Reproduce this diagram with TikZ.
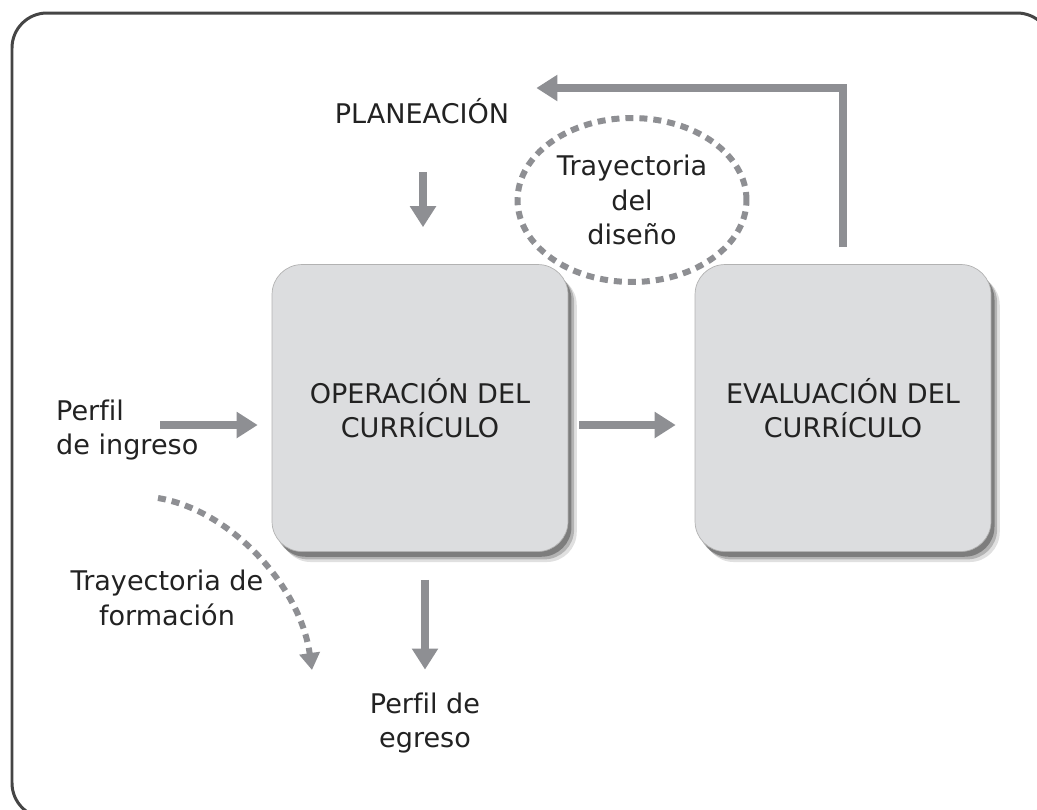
\documentclass[tikz,border=0pt]{standalone}
\usepackage{fontspec}
\setmainfont{DejaVu Sans}[Ligatures=NoCommon]
\usetikzlibrary{arrows.meta,shapes.geometric,shadows}
\definecolor{flechagris}{HTML}{8E8F93}
\definecolor{cajagris}{HTML}{DCDDDF}
\definecolor{textogris}{HTML}{222222}
\definecolor{marcogris}{HTML}{454545}

\begin{document}
\begin{tikzpicture}[x=0.02cm,y=-0.02cm,
  every node/.style={font=\fontsize{15.4}{19.5}\selectfont,text=textogris},
  caja/.style={draw=gray!60,fill=cajagris,rounded corners=0.6cm,
    minimum width=5.92cm,minimum height=5.74cm,align=center,
    drop shadow={shadow xshift=5pt,shadow yshift=-6pt,fill=black,opacity=0.12},
    drop shadow={shadow xshift=3.5pt,shadow yshift=-4.5pt,fill=black,opacity=0.2},
    drop shadow={shadow xshift=2pt,shadow yshift=-3pt,fill=black,opacity=0.3}},
  flecha/.style={draw=flechagris,line width=0.16cm,-{Triangle[width=0.5cm,length=0.42cm]}},
  punteada/.style={draw=flechagris,line width=0.12cm,dash pattern=on 0.16cm off 0.12cm}]

\useasboundingbox (0,0) rectangle (1037,809);
\clip (0,0) rectangle (1037,809);
\draw[marcogris,line width=0.06cm,rounded corners=0.7cm] (12,13) rectangle (1052,818);

\node[caja] (oper) at (420,408) {OPERACIÓN DEL\\CURRÍCULO};
\node[caja] (eval) at (843,408) {EVALUACIÓN DEL\\CURRÍCULO};

\node (plan) at (422,111) {PLANEACIÓN};
\node[ellipse,punteada,minimum width=4.12cm,minimum height=3.28cm,align=center] (diseno) at (632,200) {Trayectoria\\del\\diseño};
\node[align=left,anchor=west] (ingreso) at (50,430) {Perfil\\de ingreso};
\node[align=center] (egreso) at (425,723) {Perfil de\\egreso};
\node[align=center] (formacion) at (167,598) {Trayectoria de\\formación};

\coordinate (p0) at (423,172);
\coordinate (ent) at (160,425);
\coordinate (ret) at (843,88);
\coordinate (f0) at (158,498);
\coordinate (f1) at (312,670);

\draw[flecha,shorten >=0.74cm] (p0) -- (p0 |- oper.north);
\draw[flecha,shorten >=0.28cm] (ent) -- (ent -| oper.west);
\draw[flecha,shorten <=0.22cm,shorten >=0.38cm] (ent -| oper.east) -- (ent -| eval.west);
\draw[flecha,shorten <=0.56cm,shorten >=0.34cm] (egreso.north |- oper.south) -- (egreso.north);
\draw[flecha,shorten <=0.34cm,shorten >=0.42cm] (eval.north) -- (ret) -- (ret -| plan.east);
\draw[punteada,-{Triangle[width=0.4cm,length=0.34cm]}] (f0) .. controls (230,510) and (300,585) .. (f1);

\end{tikzpicture}
\end{document}
